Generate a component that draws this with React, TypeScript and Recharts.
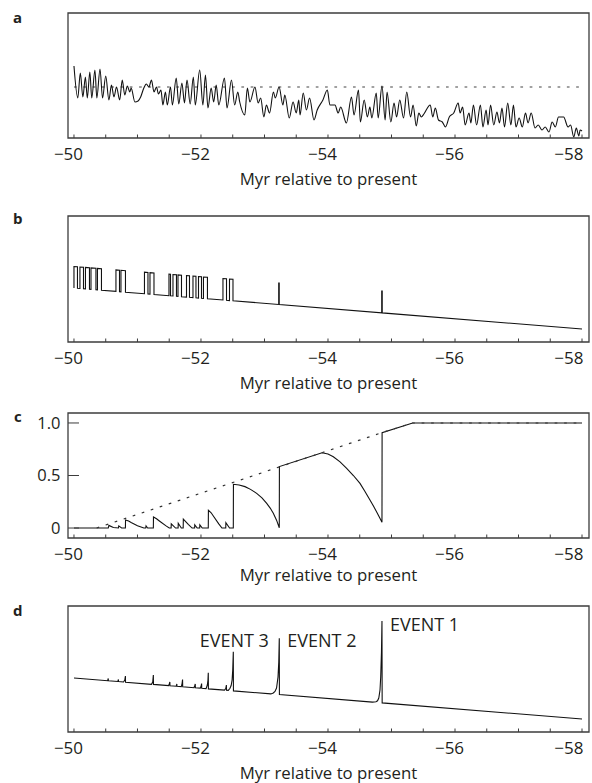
import React from 'react';
import { LineChart, Line, XAxis, YAxis, ReferenceArea, ReferenceDot } from 'recharts';

// ---------- shared axis values ----------
const X_MIN = 49.906;
const X_MAX = 58.11;
const X_TICKS = [50, 50.5, 51, 51.5, 52, 52.5, 53, 53.5, 54, 54.5, 55, 55.5, 56, 56.5, 57, 57.5, 58];
const X_LABELED = [50, 52, 54, 56, 58];
const AXIS_TITLE = 'Myr relative to present';
const PANEL_LETTERS = ['a', 'b', 'c', 'd'];

// ---------- panel a: signal (age Myr, arbitrary amplitude) ----------
const A_SIGNAL: [number, number][] = [
  [50.0, 72], [50.06, 40], [50.1, 65], [50.14, 41], [50.18, 61], [50.21, 40], [50.25, 66], [50.28, 40],
  [50.33, 68], [50.36, 40], [50.41, 69], [50.45, 40], [50.5, 62], [50.55, 38], [50.59, 53], [50.63, 41],
  [50.67, 51], [50.72, 38], [50.76, 58], [50.8, 43], [50.84, 52], [50.88, 46], [50.9, 50], [50.96, 36],
  [51.01, 37], [51.05, 41], [51.1, 50], [51.14, 54], [51.18, 51], [51.22, 58], [51.26, 46], [51.3, 51],
  [51.33, 44], [51.37, 48], [51.4, 33], [51.44, 46], [51.47, 33], [51.52, 51], [51.55, 33], [51.61, 60],
  [51.65, 34], [51.7, 55], [51.74, 35], [51.78, 58], [51.83, 34], [51.88, 61], [51.91, 33], [51.98, 68],
  [52.03, 33], [52.07, 63], [52.11, 30], [52.16, 50], [52.2, 36], [52.24, 53], [52.28, 33], [52.37, 60],
  [52.41, 30], [52.48, 58], [52.53, 33], [52.58, 46], [52.61, 36], [52.69, 23], [52.73, 50], [52.77, 36],
  [52.85, 51], [52.9, 35], [52.94, 40], [52.99, 21], [53.03, 33], [53.08, 25], [53.14, 46], [53.17, 40],
  [53.23, 51], [53.29, 33], [53.32, 43], [53.39, 20], [53.45, 36], [53.5, 25], [53.54, 38], [53.56, 23],
  [53.61, 45], [53.66, 28], [53.71, 40], [53.78, 18], [53.83, 28], [53.92, 38], [53.99, 48], [54.03, 33],
  [54.11, 33], [54.16, 25], [54.2, 31], [54.29, 15], [54.37, 41], [54.41, 23], [54.48, 48], [54.51, 16],
  [54.57, 38], [54.62, 21], [54.66, 31], [54.69, 20], [54.76, 45], [54.79, 20], [54.85, 52], [54.9, 18],
  [54.93, 46], [54.99, 16], [55.04, 35], [55.08, 21], [55.13, 38], [55.19, 20], [55.24, 46], [55.3, 21],
  [55.34, 33], [55.39, 12], [55.43, 25], [55.47, 21], [55.51, 24], [55.61, 33], [55.65, 21], [55.69, 30],
  [55.74, 18], [55.8, 16], [55.85, 11], [55.91, 21], [55.98, 25], [56.05, 35], [56.08, 25], [56.12, 31],
  [56.16, 13], [56.22, 25], [56.25, 15], [56.29, 33], [56.34, 13], [56.4, 33], [56.44, 11], [56.49, 28],
  [56.52, 13], [56.56, 33], [56.61, 13], [56.66, 26], [56.7, 15], [56.74, 30], [56.78, 11], [56.83, 35],
  [56.88, 13], [56.92, 33], [56.96, 11], [57.01, 20], [57.06, 11], [57.11, 25], [57.15, 15], [57.2, 25],
  [57.26, 10], [57.31, 13], [57.37, 8], [57.42, 11], [57.48, 6], [57.53, 16], [57.58, 11], [57.63, 21],
  [57.71, 21], [57.78, 11], [57.82, 13], [57.87, 1], [57.91, 10], [57.95, 2], [57.97, 8], [58.0, 7],
];
const A_THRESHOLD: [number, number][] = [[50.0, 51], [58.0, 51]];
const A_DOMAIN: [number, number] = [0, 125];

// ---------- panel b: pulse series ----------
const B_SERIES: [number, number][] = [
  [50.0, 54.0], [50.0, 75.5], [50.055, 75.2], [50.055, 53.7], [50.094, 53.5], [50.094, 75.0], [50.15, 74.7], [50.15, 53.2],
  [50.181, 53.1], [50.181, 74.6], [50.244, 74.2], [50.244, 52.7], [50.268, 52.6], [50.268, 74.1], [50.346, 73.7], [50.346, 52.2],
  [50.37, 52.1], [50.37, 73.6], [50.433, 73.3], [50.433, 51.8], [50.661, 50.6], [50.661, 72.1], [50.717, 71.8], [50.717, 50.3],
  [50.74, 50.2], [50.74, 71.7], [50.811, 71.3], [50.811, 49.8], [51.11, 48.3], [51.11, 69.8], [51.165, 69.5], [51.165, 48.0],
  [51.197, 47.9], [51.197, 69.4], [51.26, 69.0], [51.26, 47.5], [51.496, 46.3], [51.496, 67.8], [51.52, 67.7], [51.52, 46.2],
  [51.559, 46.0], [51.559, 67.5], [51.614, 67.2], [51.614, 45.7], [51.638, 45.6], [51.638, 67.1], [51.693, 66.8], [51.693, 45.3],
  [51.772, 44.9], [51.772, 66.4], [51.819, 66.2], [51.819, 44.7], [51.874, 44.4], [51.874, 65.9], [51.921, 65.7], [51.921, 44.2],
  [51.961, 43.9], [51.961, 65.4], [52.008, 65.2], [52.008, 43.7], [52.039, 43.5], [52.039, 65.0], [52.102, 64.7], [52.102, 43.2],
  [52.346, 42.0], [52.346, 63.5], [52.402, 63.2], [52.402, 41.7], [52.449, 41.4], [52.449, 62.9], [52.504, 62.7], [52.504, 41.2],
  [53.224, 37.5], [53.224, 59.0], [53.232, 59.0], [53.232, 37.5], [54.846, 29.2], [54.846, 51.0], [54.854, 51.0], [54.854, 29.1],
  [58.0, 13.0],
];
const B_DOMAIN: [number, number] = [0, 126];

// ---------- panel c: fraction ----------
const C_SERIES: [number, number][] = [
  [50.0, 0], [50.54, 0], [50.55, 0.025], [50.62, 0.005], [50.7, 0], [50.705, 0.02], [50.75, 0],
  [50.81, 0], [50.812, 0.076], [50.86, 0.066], [50.9, 0.052], [51.0, 0.022], [51.1, 0], [51.13, 0], [51.135, 0.02], [51.16, 0],
  [51.25, 0], [51.252, 0.105], [51.3, 0.088], [51.35, 0.065], [51.45, 0.02], [51.5, 0], [51.53, 0], [51.532, 0.04], [51.6, 0],
  [51.64, 0], [51.642, 0.045], [51.69, 0], [51.72, 0], [51.722, 0.085], [51.8, 0.035], [51.86, 0],
  [51.9, 0], [51.902, 0.03], [51.94, 0], [51.98, 0], [51.982, 0.03], [52.02, 0],
  [52.115, 0], [52.117, 0.17], [52.16, 0.145], [52.2, 0.11], [52.28, 0.04], [52.33, 0], [52.39, 0], [52.392, 0.05], [52.45, 0],
  [52.509, 0], [52.511, 0.416], [52.6, 0.41], [52.693, 0.394], [52.78, 0.368], [52.877, 0.33], [52.96, 0.288],
  [53.035, 0.235], [53.09, 0.19], [53.139, 0.14], [53.19, 0.075], [53.233, 0.003],
  [53.235, 0.585], [53.906, 0.717], [54.0, 0.704], [54.084, 0.679], [54.19, 0.63], [54.294, 0.568], [54.4, 0.5],
  [54.504, 0.425], [54.58, 0.35], [54.661, 0.267], [54.72, 0.205], [54.777, 0.14], [54.82, 0.09],
  [54.85, 0.054], [54.852, 0.908], [55.333, 1.0], [58.0, 1.0],
];
const C_LIMIT: [number, number][] = [[50.357, 0], [54.85, 0.908], [55.333, 1.0], [58.0, 1.0]];
const C_DOMAIN: [number, number] = [-0.095, 1.095];
const C_Y_TICKS = [0, 0.5, 1];
const C_Y_LABELS = ['0', '0.5', '1.0'];

// ---------- panel d: events ----------
const D_SERIES: [number, number][] = [
  [50.0, 54.0], [50.53, 51.3], [50.54, 53.5], [50.542, 51.2], [50.69, 50.5], [50.7, 52.5], [50.702, 50.4],
  [50.78, 50.0], [50.8, 52], [50.81, 56], [50.812, 49.8], [51.22, 47.7], [51.24, 50], [51.25, 57], [51.252, 47.6],
  [51.49, 46.4], [51.5, 48], [51.51, 50], [51.512, 46.3], [51.61, 45.8], [51.62, 48], [51.622, 45.7],
  [51.69, 45.4], [51.7, 47.5], [51.71, 52.5], [51.712, 45.2], [51.89, 44.3], [51.9, 46], [51.91, 48], [51.912, 44.2],
  [51.99, 43.9], [52.0, 45.5], [52.01, 48.5], [52.012, 43.8], [52.08, 43.4], [52.1, 47], [52.11, 52], [52.115, 59.3],
  [52.117, 43.1], [52.37, 41.9], [52.39, 43.5], [52.4, 47], [52.402, 41.7], [52.43, 41.6], [52.457, 43.7],
  [52.475, 46.5], [52.49, 52], [52.5, 62], [52.509, 80.3], [52.511, 41.1], [53.1, 38.1], [53.139, 39], [53.165, 40.5],
  [53.19, 44], [53.213, 55], [53.225, 70], [53.233, 93.7], [53.235, 37.5], [54.7, 29.9], [54.756, 30.2], [54.78, 31.2],
  [54.8, 34], [54.819, 42], [54.83, 55], [54.842, 80], [54.85, 111], [54.853, 29.1], [58.0, 13.0],
];
const D_DOMAIN: [number, number] = [0, 126];
const EVENT_NAMES = ['EVENT 1', 'EVENT 2', 'EVENT 3'];
const EVENT_AGES = [54.85, 53.233, 52.509];
const EVENT_PEAKS = [111, 93.7, 80.3];

// ---------- styling ----------
const FONT = '"Open Sans", "Noto Sans", sans-serif';
const INK = '#231f20';
const FRAME = '#3c3c3c';

const rows = (pts: [number, number][]) => pts.map(([age, v]) => ({ age, v }));

const XTick = (props: any) => {
  const { x, y, payload } = props;
  const v = payload.value;
  const labeled = X_LABELED.some((t) => Math.abs(t - v) < 1e-6);
  const isLast = Math.abs(v - X_LABELED[X_LABELED.length - 1]) < 1e-6;
  return (
    <g>
      <line x1={x} x2={x} y1={y} y2={y - 3.5} stroke={FRAME} strokeWidth={1} />
      {labeled && (
        <text
          x={isLast ? x + 1.5 : x - 5.5}
          y={y + 22}
          textAnchor={isLast ? 'end' : 'middle'}
          fontSize={17}
          fill={INK}
          fontFamily={FONT}
        >
          {'\u2212' + v}
        </text>
      )}
    </g>
  );
};

const YTickC = (props: any) => {
  const { x, y, payload } = props;
  const i = C_Y_TICKS.findIndex((t) => Math.abs(t - payload.value) < 1e-6);
  return (
    <g>
      <line x1={x} x2={x + 11} y1={y} y2={y} stroke={FRAME} strokeWidth={1} />
      <text x={x - 7.5} y={y + 5.8} textAnchor="end" fontSize={16.5} fill={INK} fontFamily={FONT}>
        {i >= 0 ? C_Y_LABELS[i] : ''}
      </text>
    </g>
  );
};

const AxisTitle = (props: any) => {
  const vb = props.viewBox || { x: 0, y: 0, width: 0 };
  return (
    <text x={vb.x + vb.width / 2} y={vb.y + (props.gap ?? 47)} textAnchor="middle" fontSize={16.8} fill={INK} fontFamily={FONT}>
      {AXIS_TITLE}
    </text>
  );
};

const EventLabel = (props: any) => {
  const vb = props.viewBox || { x: 0, y: 0 };
  return (
    <text x={vb.x + props.dx} y={vb.y + props.dy} textAnchor={props.anchor} fontSize={18} fill={INK} fontFamily={FONT}>
      {props.text}
    </text>
  );
};

type PanelProps = {
  top: number;
  bottom: number;
  yDomain: [number, number];
  withY?: boolean;
  titleGap?: number;
  children: React.ReactNode;
};

function Panel({ top, bottom, yDomain, withY, titleGap, children }: PanelProps) {
  const H = bottom - top + 65;
  return (
    <div style={{ position: 'absolute', left: 0, top: top - 10 }}>
      <LineChart width={592} height={H} margin={{ top: 10, right: 3, bottom: 25, left: withY ? 0 : 68 }}>
        <XAxis
          type="number"
          dataKey="age"
          domain={[X_MIN, X_MAX]}
          allowDataOverflow
          ticks={X_TICKS}
          interval={0}
          tick={<XTick />}
          tickSize={0}
          tickMargin={0}
          axisLine={false}
          tickLine={false}
          height={30}
          label={<AxisTitle gap={titleGap ?? 47} />}
        />
        {withY ? (
          <YAxis
            type="number"
            domain={yDomain}
            allowDataOverflow
            ticks={C_Y_TICKS}
            interval={0}
            tick={<YTickC />}
            tickSize={0}
            tickMargin={0}
            axisLine={false}
            tickLine={false}
            width={68}
          />
        ) : (
          <YAxis type="number" domain={yDomain} allowDataOverflow hide />
        )}
        <ReferenceArea
          x1={X_MIN}
          x2={X_MAX}
          y1={yDomain[0]}
          y2={yDomain[1]}
          fill="none"
          stroke={FRAME}
          strokeWidth={1.3}
          ifOverflow="visible"
        />
        {children}
      </LineChart>
    </div>
  );
}

export default function App() {
  return (
    <div
      style={{
        position: 'fixed',
        left: 0,
        top: 0,
        width: 592,
        height: 783,
        overflow: 'hidden',
        background: '#fff',
        fontFamily: FONT,
      }}
    >
      {/* panel a */}
      <Panel top={13} bottom={138} yDomain={A_DOMAIN}>
        <Line data={rows(A_THRESHOLD)} dataKey="v" type="linear" stroke="#444" strokeWidth={1.2} strokeDasharray="2.7 6.6" dot={false} isAnimationActive={false} />
        <Line data={rows(A_SIGNAL)} dataKey="v" type="monotone" stroke="#111" strokeWidth={1.1} dot={false} isAnimationActive={false} />
      </Panel>

      {/* panel b */}
      <Panel top={216} bottom={342} yDomain={B_DOMAIN}>
        <Line data={rows(B_SERIES)} dataKey="v" type="linear" stroke="#111" strokeWidth={1.1} dot={false} isAnimationActive={false} />
      </Panel>

      {/* panel c */}
      <Panel top={413} bottom={538} yDomain={C_DOMAIN} withY titleGap={43}>
        <Line data={rows(C_SERIES)} dataKey="v" type="linear" stroke="#111" strokeWidth={1.1} dot={false} isAnimationActive={false} />
        <Line data={rows(C_LIMIT)} dataKey="v" type="linear" stroke="#333" strokeWidth={1.2} strokeDasharray="2.7 6.8" dot={false} isAnimationActive={false} />
      </Panel>

      {/* panel d */}
      <Panel top={606} bottom={732} yDomain={D_DOMAIN}>
        <Line data={rows(D_SERIES)} dataKey="v" type="linear" stroke="#111" strokeWidth={1.1} dot={false} isAnimationActive={false} />
        <ReferenceDot x={EVENT_AGES[0]} y={EVENT_PEAKS[0]} r={0} fill="none" stroke="none" ifOverflow="visible"
          label={<EventLabel text={EVENT_NAMES[0]} dx={8} dy={10} anchor="start" />} />
        <ReferenceDot x={EVENT_AGES[1]} y={EVENT_PEAKS[1]} r={0} fill="none" stroke="none" ifOverflow="visible"
          label={<EventLabel text={EVENT_NAMES[1]} dx={8} dy={9} anchor="start" />} />
        <ReferenceDot x={EVENT_AGES[2]} y={EVENT_PEAKS[2]} r={0} fill="none" stroke="none" ifOverflow="visible"
          label={<EventLabel text={EVENT_NAMES[2]} dx={1} dy={-5} anchor="middle" />} />
      </Panel>

      {/* panel letters */}
      <svg width={592} height={783} style={{ position: 'absolute', left: 0, top: 0, pointerEvents: 'none' }}>
        <text x={13} y={23} fontSize={15} fontWeight={700} fill={INK} fontFamily={FONT}>{PANEL_LETTERS[0]}</text>
        <text x={13} y={224} fontSize={15} fontWeight={700} fill={INK} fontFamily={FONT}>{PANEL_LETTERS[1]}</text>
        <text x={14} y={422} fontSize={15} fontWeight={700} fill={INK} fontFamily={FONT}>{PANEL_LETTERS[2]}</text>
        <text x={13} y={616} fontSize={15} fontWeight={700} fill={INK} fontFamily={FONT}>{PANEL_LETTERS[3]}</text>
      </svg>
    </div>
  );
}
